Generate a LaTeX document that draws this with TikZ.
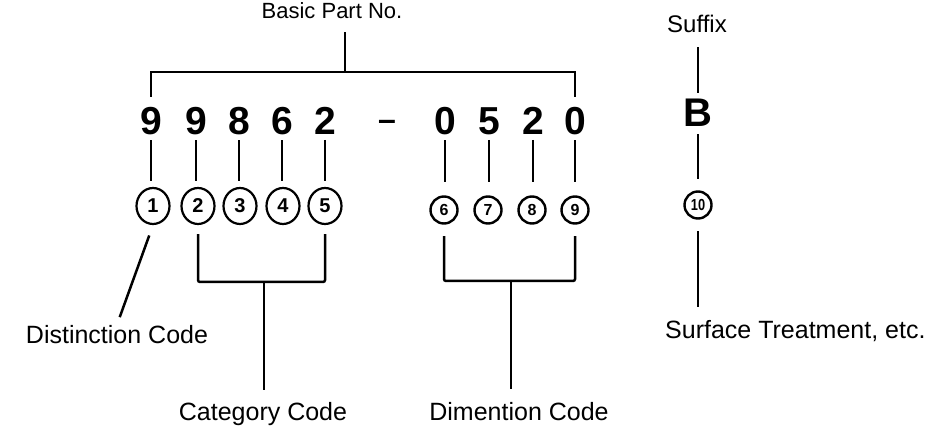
\documentclass[tikz,border=0pt]{standalone}
\usepackage{graphicx}
\usepackage{fontspec}
\setmainfont{Liberation Sans}
\usetikzlibrary{shapes.geometric}
\begin{document}
\begin{tikzpicture}[x=1pt,y=-1pt,
  ln/.style={line width=2.5pt},
  dig/.style={inner sep=0pt, font=\bfseries\fontsize{39}{39}\selectfont},
  lbl/.style={inner sep=0pt, anchor=base, font=\fontsize{25}{25}\selectfont},
  slbl/.style={inner sep=0pt, anchor=base, font=\fontsize{22}{22}\selectfont},
  bigc/.style={ellipse, draw, line width=2.2pt, minimum width=33pt, minimum height=36pt, inner sep=0pt, font=\bfseries\fontsize{20}{20}\selectfont},
  smallc/.style={circle, draw, line width=2.4pt, minimum size=27pt, inner sep=0pt, font=\bfseries\fontsize{16}{16}\selectfont},
]
\useasboundingbox (0,0) rectangle (939,427);

% labels
\node[slbl] (bp) at (332,19) {Basic Part No.};
\node[slbl, font=\fontsize{24}{24}\selectfont] (suf) at (697,33) {Suffix};
\node[lbl] (dist) at (117,343) {Distinction Code};
\node[lbl] (cat) at (263,420) {Category Code};
\node[lbl] (dim) at (519,420) {Dimention Code};
\node[lbl, anchor=base west] (surf) at (665,338) {Surface Treatment, etc.};

% digits
\node[dig] (d1) at (151,121) {9};
\node[dig] (d2) at (196,121) {9};
\node[dig] (d3) at (239,121) {8};
\node[dig] (d4) at (282,121) {6};
\node[dig] (d5) at (325,121) {2};
\node[dig, font=\bfseries\fontsize{32}{32}\selectfont] (dash) at (387,125) {–};
\node[dig] (d6) at (445,121) {0};
\node[dig] (d7) at (489,121) {5};
\node[dig] (d8) at (533,121) {2};
\node[dig] (d9) at (575,121) {0};
\node[dig, font=\bfseries\fontsize{40}{40}\selectfont] (B) at (698,112.5) {B};

% circled numbers
\node[bigc] (c1) at (153,206) {1};
\node[bigc] (c2) at (198,206) {2};
\node[bigc] (c3) at (240,206) {3};
\node[bigc] (c4) at (283,206) {4};
\node[bigc] (c5) at (325,206) {5};
\node[smallc] (c6) at (444,210) {6};
\node[smallc] (c7) at (488,210) {7};
\node[smallc] (c8) at (532,210) {8};
\node[smallc] (c9) at (575,210) {9};
\node[smallc] (c10) at (698,205) {\scalebox{0.8}[1]{10}};

% top bracket
\coordinate (bpM) at (345,72);
\draw[ln] ([yshift=10pt]d1.north) |- (bpM) -| ([yshift=10pt]d9.north);
\draw[ln, shorten >=13pt] (bpM) -- (bpM |- bp.south);

% digit to circle lines
\foreach \i in {1,...,5}
  \draw[ln, shorten <=5pt, shorten >=6pt] (d\i.south) -- (d\i.south |- c\i.north);
\foreach \i in {6,...,9}
  \draw[ln, shorten <=5pt, shorten >=13.5pt] (d\i.south) -- (d\i.south |- c\i.north);

% distinction
\draw[ln, shorten <=11pt, shorten >=8pt] (c1.south) -- (dist.north);

% category bracket
\coordinate (catM) at (264,282);
\draw[ln, rounded corners=2pt] ([yshift=-9pt]c2.south) |- (catM) -| ([yshift=-9pt]c5.south);
\draw[ln, shorten >=12pt] (catM) -- (catM |- cat.north);

% dimension bracket
\coordinate (dimM) at (511,281);
\draw[ln, rounded corners=2pt] ([yshift=-11.5pt]c6.south) |- (dimM) -| ([yshift=-11.5pt]c9.south);
\draw[ln, shorten >=13pt] (dimM) -- (dimM |- dim.north);

% suffix chain
\draw[ln, shorten <=14pt, shorten >=6pt] (suf.south -| B.north) -- (B.north);
\draw[ln, shorten <=8pt, shorten >=11.5pt] (B.south) -- (B.south |- c10.north);
\draw[ln, shorten <=11.5pt, shorten >=13pt] (c10.south) -- (c10.south |- surf.north);
\end{tikzpicture}
\end{document}
